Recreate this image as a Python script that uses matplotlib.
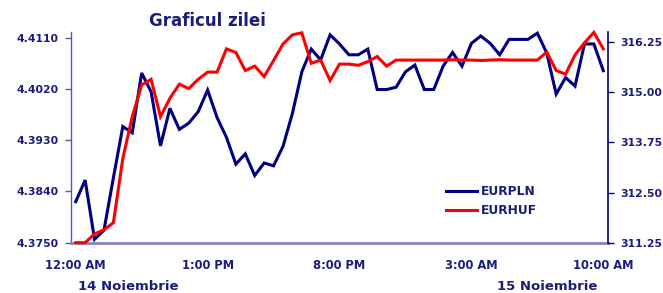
import matplotlib
matplotlib.use("Agg")
import matplotlib.pyplot as plt
from matplotlib.ticker import FormatStrFormatter

# ---- data ----
eurpln = [4.3822, 4.3860, 4.3756, 4.3772, 4.3864, 4.3954, 4.3943, 4.4048, 4.4015, 4.3920,
          4.3986, 4.3949, 4.3960, 4.3980, 4.4018, 4.3970, 4.3935, 4.3888, 4.3906, 4.3868,
          4.3890, 4.3885, 4.3919, 4.3977, 4.4050, 4.4090, 4.4071, 4.4115, 4.4099, 4.4080,
          4.4080, 4.4090, 4.4019, 4.4019, 4.4023, 4.4050, 4.4062, 4.4019, 4.4019, 4.4060,
          4.4084, 4.4060, 4.4100, 4.4113, 4.4100, 4.4080, 4.4107, 4.4107, 4.4107, 4.4118,
          4.4083, 4.4011, 4.4040, 4.4025, 4.4099, 4.4099, 4.4052]
eurhuf = [311.25, 311.25, 311.47, 311.57, 311.75, 313.35, 314.39, 315.18, 315.32, 314.39,
          314.85, 315.20, 315.09, 315.32, 315.50, 315.50, 316.08, 315.99, 315.54, 315.65,
          315.39, 315.79, 316.20, 316.43, 316.48, 315.72, 315.80, 315.29, 315.70, 315.70,
          315.67, 315.76, 315.89, 315.65, 315.80, 315.80, 315.80, 315.80, 315.80, 315.80,
          315.81, 315.80, 315.80, 315.79, 315.80, 315.81, 315.80, 315.80, 315.80, 315.80,
          316.00, 315.54, 315.45, 315.93, 316.23, 316.49, 316.08]
tick_positions = [0, 14, 28, 42, 56]
tick_labels = ["12:00 AM", "1:00 PM", "8:00 PM", "3:00 AM", "10:00 AM"]
left_ticks = [4.3750, 4.3840, 4.3930, 4.4020, 4.4110]
right_ticks = [311.25, 312.50, 313.75, 315.00, 316.25]
date_labels = ["14 Noiembrie", "15 Noiembrie"]
series_names = ["EURPLN", "EURHUF"]
title = "Graficul zilei"

navy_text = "#1c1c7c"
blue = "#000080"
red = "#ff0000"

plt.rcParams['font.family'] = ['DejaVu Sans']

fig = plt.figure(figsize=(6.63, 2.93), dpi=100)
ax = fig.add_axes([71/663, 1-242.7/293, (608-71)/663, (242.7-32)/293])
ax2 = ax.twinx()

x = list(range(len(eurpln)))
l1, = ax.plot(x, eurpln, color=blue, lw=2.2, solid_joinstyle='miter', clip_on=False)
l2, = ax2.plot(x, eurhuf, color=red, lw=2.2, solid_joinstyle='miter', clip_on=False)

ax.set_xlim(-0.5, len(eurpln) - 0.5)
ax.set_ylim(4.3750, 4.4120)
ax2.set_ylim(311.25, 316.50)

ax.set_yticks(left_ticks)
ax.yaxis.set_major_formatter(FormatStrFormatter('%.4f'))
ax2.set_yticks(right_ticks)
ax2.yaxis.set_major_formatter(FormatStrFormatter('%.2f'))
ax.set_xticks(tick_positions)
ax.set_xticklabels(tick_labels)

for a in (ax, ax2):
    for s in a.spines.values():
        s.set_visible(False)

ax.spines['left'].set_visible(True)
ax.spines['left'].set_color('#5a5aa0')
ax.spines['left'].set_linewidth(1.0)
ax.spines['bottom'].set_visible(True)
ax.spines['bottom'].set_color('#8484c4')
ax.spines['bottom'].set_linewidth(2.0)
ax2.spines['right'].set_visible(True)
ax2.spines['right'].set_color(blue)
ax2.spines['right'].set_linewidth(1.2)

ax.tick_params(axis='y', direction='out', length=4, width=1, color='#5a5aa0',
               labelsize=7.8, labelcolor=navy_text, pad=5)
ax2.tick_params(axis='y', direction='out', length=4, width=1, color=blue,
                labelsize=7.8, labelcolor=navy_text, pad=5)
ax.tick_params(axis='x', length=0, labelsize=8.3, labelcolor=navy_text, pad=12)
for lab in ax.get_yticklabels() + ax2.get_yticklabels() + ax.get_xticklabels():
    lab.set_fontweight('bold')

fig.text(207/663, 1-21/293, title, ha='center', va='center', fontsize=12,
         fontweight='bold', color=navy_text)
fig.text(128/663, 1-287/293, date_labels[0], ha='center', va='center', fontsize=9.5,
         fontweight='bold', color=navy_text)
fig.text(547/663, 1-287/293, date_labels[1], ha='center', va='center', fontsize=9.5,
         fontweight='bold', color=navy_text)

leg = fig.legend([l1, l2], series_names, loc='upper left',
                 bbox_to_anchor=(446/663, 1-185/293), frameon=False,
                 prop={'size': 8.8, 'weight': 'bold'}, handlelength=2.5,
                 handletextpad=0.35, labelspacing=0.5, borderpad=0, borderaxespad=0)
for t in leg.get_texts():
    t.set_color(navy_text)

fig.savefig("out.png", dpi=100)
